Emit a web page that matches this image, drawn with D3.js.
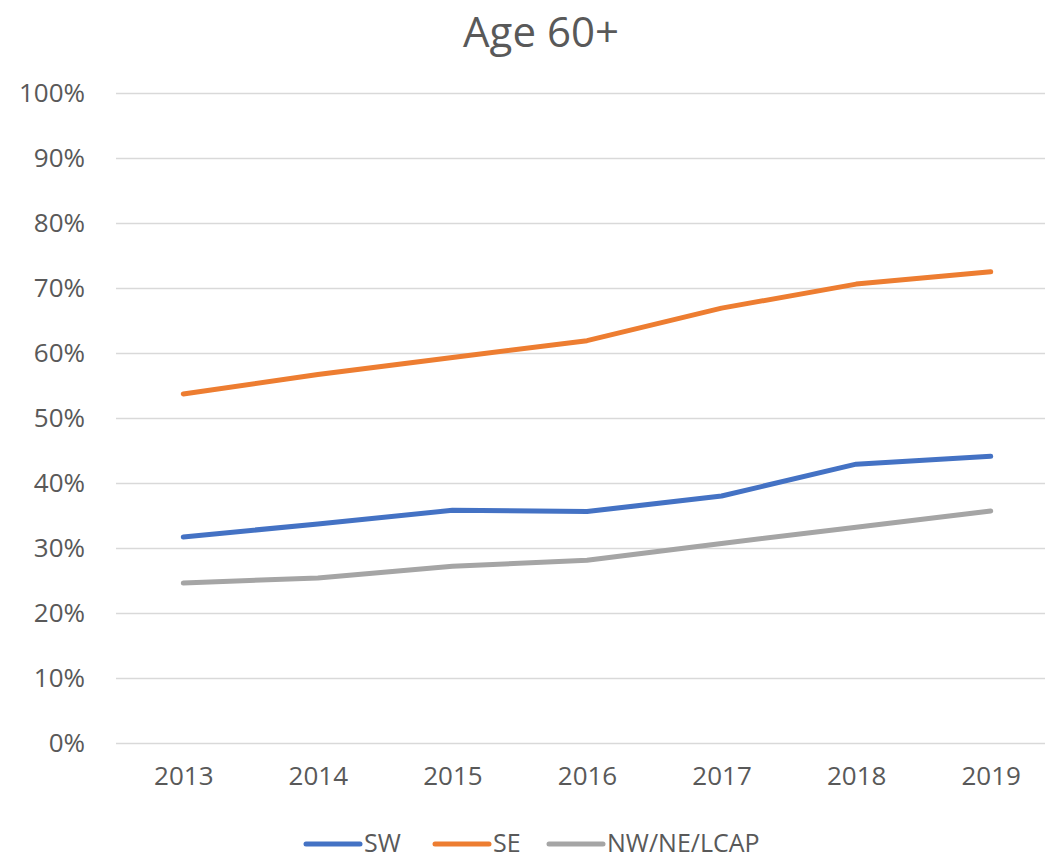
<!DOCTYPE html>
<html>
<head>
<meta charset="utf-8">
<script src="https://cdn.jsdelivr.net/npm/d3@7"></script>
<style>
  body { margin: 0; background: #fff; }
  svg { display: block; font-family: 'Open Sans', sans-serif; }
</style>
</head>
<body>
<svg id="chart" width="1045" height="860"></svg>
<script>
var width = 1045;
var height = 860;
var margin = {top: 93, bottom: 117, left: 116, right: -13};

// chart data
var years = ['2013', '2014', '2015', '2016', '2017', '2018', '2019'];
var sw = [31.7, 33.7, 35.8, 35.6, 38.0, 42.9, 44.1];
var se = [53.7, 56.7, 59.3, 61.9, 66.9, 70.6, 72.5];
var nw = [24.6, 25.4, 27.2, 28.1, 30.7, 33.2, 35.7];
var yTicks = [0, 10, 20, 30, 40, 50, 60, 70, 80, 90, 100];
var seriesNames = ['SW', 'SE', 'NW/NE/LCAP'];
var colors = ['#4472C4', '#ED7D31', '#A5A5A5'];

var series = [sw, se, nw].map((vals, i) => ({
  name: seriesNames[i],
  color: colors[i],
  values: vals.map((v, j) => ({year: years[j], value: v}))
}));

var svg = d3.select('#chart');

// scales
var xScale = d3.scalePoint()
  .domain(years)
  .range([margin.left, width - margin.right])
  .padding(0.5);
var yScale = d3.scaleLinear()
  .domain([0, 100])
  .range([height - margin.bottom, margin.top]);

// title
svg.append('text')
  .attr('x', 541)
  .attr('y', 47)
  .attr('text-anchor', 'middle')
  .attr('font-size', 42)
  .attr('fill', '#595959')
  .text('Age 60+');

// gridlines via axis
var grid = d3.axisLeft(yScale)
  .tickValues(yTicks)
  .tickSize(-(width - margin.right - margin.left))
  .tickFormat('');
svg.append('g')
  .attr('transform', 'translate(' + [margin.left, 0] + ')')
  .call(grid)
  .call(g => g.select('.domain').remove())
  .call(g => g.selectAll('line').attr('stroke', '#D9D9D9').attr('stroke-width', 1.3));

// y labels
var yAxis = d3.axisLeft(yScale)
  .tickValues(yTicks)
  .tickSize(0)
  .tickPadding(31)
  .tickFormat(d => d + '%');
svg.append('g')
  .attr('transform', 'translate(' + [margin.left, 0] + ')')
  .call(yAxis)
  .call(g => g.select('.domain').remove())
  .call(g => g.selectAll('text')
    .attr('font-family', "'Open Sans', sans-serif")
    .attr('font-size', 26)
    .attr('fill', '#595959'));

// x labels
var xAxis = d3.axisBottom(xScale).tickSize(0).tickPadding(24);
svg.append('g')
  .attr('transform', 'translate(' + [0, height - margin.bottom] + ')')
  .call(xAxis)
  .call(g => g.select('.domain').remove())
  .call(g => g.selectAll('text')
    .attr('font-family', "'Open Sans', sans-serif")
    .attr('font-size', 26)
    .attr('fill', '#595959'));

// lines
var line = d3.line()
  .x(d => xScale(d.year))
  .y(d => yScale(d.value));

svg.selectAll('.series')
  .data(series)
  .enter().append('path')
  .attr('class', 'series')
  .attr('d', d => line(d.values))
  .attr('fill', 'none')
  .attr('stroke', d => d.color)
  .attr('stroke-width', 5)
  .attr('stroke-linecap', 'round')
  .attr('stroke-linejoin', 'round');

// legend
var legendX = [306, 435, 549];
var legend = svg.selectAll('.legend')
  .data(series)
  .enter().append('g')
  .attr('class', 'legend')
  .attr('transform', (d, i) => 'translate(' + [legendX[i], 844] + ')');
legend.append('line')
  .attr('x1', 0).attr('x2', 54)
  .attr('stroke', d => d.color)
  .attr('stroke-width', 5)
  .attr('stroke-linecap', 'round');
legend.append('text')
  .attr('x', 58)
  .attr('y', 8)
  .attr('font-size', 25)
  .attr('fill', '#595959')
  .text(d => d.name);
</script>
</body>
</html>
